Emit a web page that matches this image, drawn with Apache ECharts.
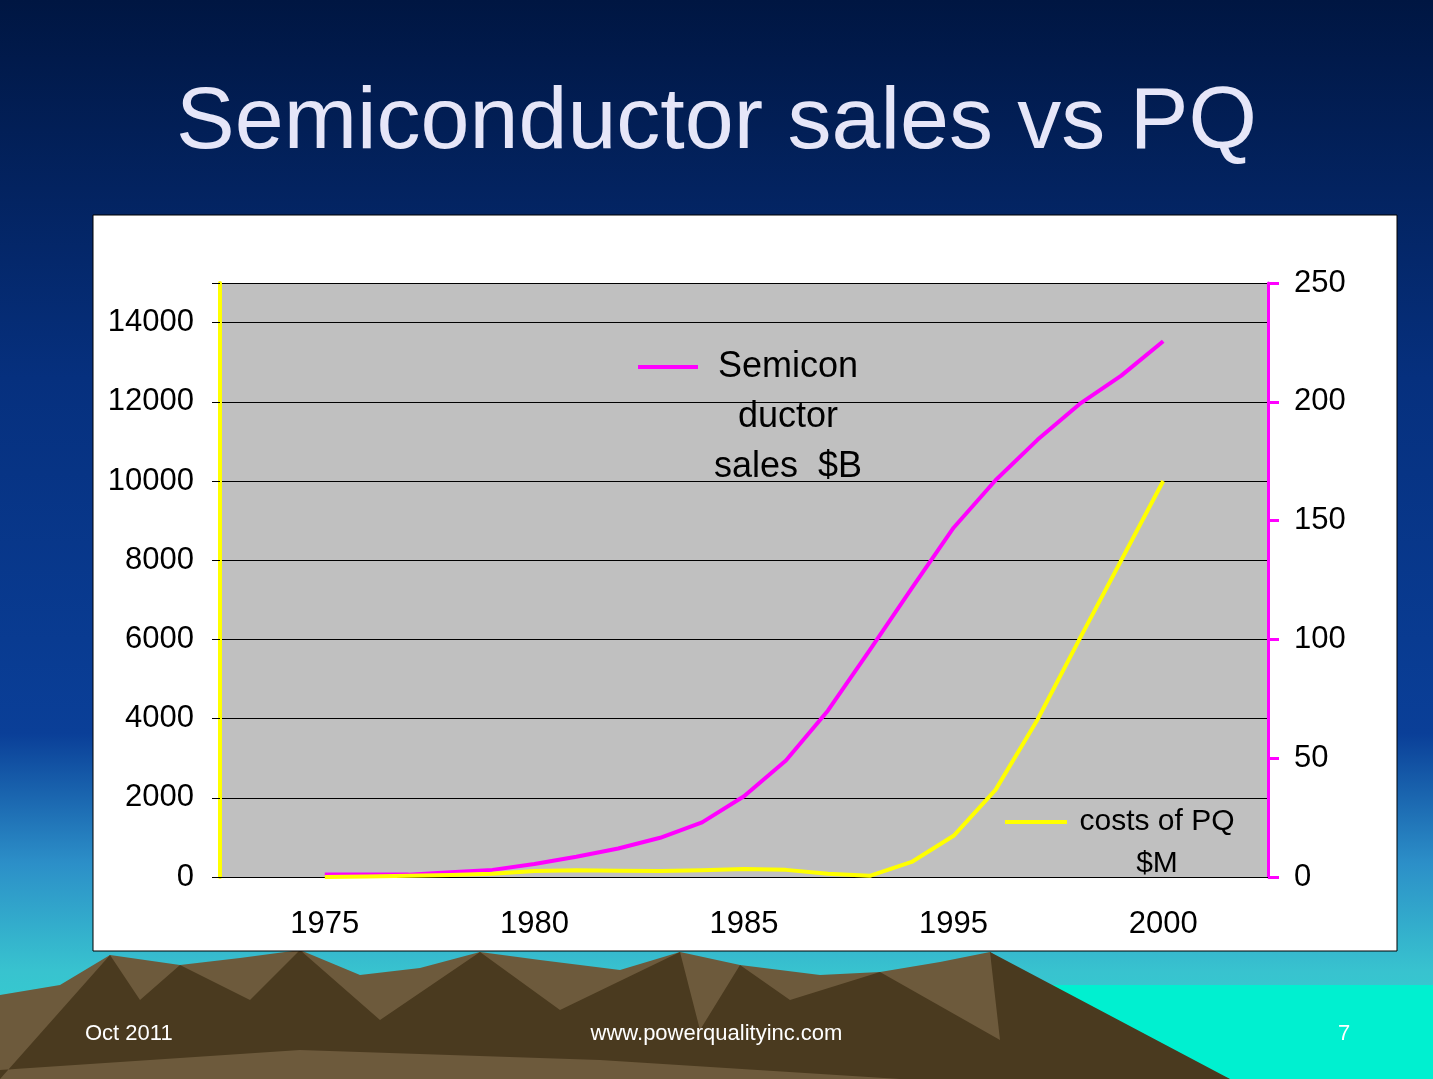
<!DOCTYPE html>
<html><head><meta charset="utf-8">
<script src="https://cdn.jsdelivr.net/npm/echarts@6/dist/echarts.min.js"></script>
<style>html,body{margin:0;padding:0;}#c{width:1433px;height:1079px;}</style>
</head><body><div id="c"></div>
<script>
'use strict';
var yearLabels = ['1975', '1980', '1985', '1995', '2000'];
// x positions in label units (0 = 1975 ... 4 = 2000), 5 points per interval
var xSteps = [0, 0.2, 0.4, 0.6, 0.8, 1, 1.2, 1.4, 1.6, 1.8, 2, 2.2, 2.4, 2.6, 2.8, 3, 3.2, 3.4, 3.6, 3.8, 4];
var semiSales = [1, 1, 1, 2, 3, 5.5, 8.5, 12, 16.5, 23, 34, 49, 70, 95.5, 121.5, 147, 167, 184, 199, 211, 225.5];
var pqCosts = [0, 10, 30, 50, 80, 150, 170, 160, 150, 170, 200, 180, 80, 30, 380, 1040, 2200, 3970, 6000, 8000, 10000];

function pairs(ys) {
  var out = [];
  for (var i = 0; i < xSteps.length; i++) out.push([xSteps[i], ys[i]]);
  return out;
}

var chart = echarts.init(document.getElementById('c'));
var font = 'Liberation Sans, Arial, sans-serif';
var option = {
  backgroundColor: {
    type: 'linear', x: 0, y: 0, x2: 0, y2: 1,
    colorStops: [
      {offset: 0, color: '#001642'}, {offset: 0.35, color: '#06307e'},
      {offset: 0.68, color: '#0a3f98'}, {offset: 0.8, color: '#2c8fc8'},
      {offset: 0.9, color: '#38c3cf'}, {offset: 1, color: '#30d8d0'}
    ]
  },
  graphic: [
    {type: 'polygon', z: -10, shape: {points: [[0, 995], [60, 985], [110, 955], [180, 965], [240, 958], [300, 950], [360, 975], [420, 968], [480, 952], [540, 960], [620, 970], [680, 952], [740, 965], [820, 975], [880, 972], [940, 962], [990, 952], [1040, 985], [1100, 1020], [1230, 1079], [0, 1079]]},
      style: {fill: '#6d5a3c'}},
    {type: 'polygon', z: -10, shape: {points: [[1040, 985], [1433, 985], [1433, 1079], [1230, 1079]]},
      style: {fill: '#00f0d0'}},
    {type: 'polygon', z: -10, shape: {points: [[110, 955], [140, 1000], [180, 965], [250, 1000], [300, 950], [380, 1020], [480, 952], [560, 1010], [680, 952], [700, 1030], [740, 965], [790, 1000], [880, 972], [1000, 1040], [990, 952], [1230, 1079], [900, 1079], [600, 1060], [300, 1050], [0, 1070], [0, 1079]]},
      style: {fill: '#4a3a1f'}},
    {type: 'rect', z: -9, shape: {x: 93, y: 215, width: 1304, height: 736}, style: {fill: '#ffffff', stroke: '#000', lineWidth: 1}},
    {type: 'text', z: 5, left: 'center', top: 80, style: {text: 'Semiconductor sales vs PQ', font: '88px ' + font, fill: '#e6e6f8', shadowColor: 'rgba(0,0,0,0.8)', shadowOffsetX: 4, shadowOffsetY: 4, shadowBlur: 2}},
    {type: 'text', z: 5, left: 85, top: 1023, style: {text: 'Oct 2011', font: '22px ' + font, fill: '#fff'}},
    {type: 'text', z: 5, left: 'center', top: 1023, style: {text: 'www.powerqualityinc.com', font: '22px ' + font, fill: '#fff'}},
    {type: 'text', z: 5, left: 1338, top: 1023, style: {text: '7', font: '22px ' + font, fill: '#fff'}}
  ],
  grid: {left: 220, right: 165, top: 283, bottom: 202, backgroundColor: '#c0c0c0', show: true, borderWidth: 0, z: 0},
  legend: [
    {data: ['Semiconductor sales $B'], left: 633, top: 237, itemWidth: 60, itemHeight: 50, itemGap: 4,
      icon: 'path://M0,23L60,23L60,27L0,27Z',
      formatter: function () { return '{a|}\n{a|}\n{a|Semicon}\n{a|ductor}\n{a|sales  $B}'; },
      textStyle: {fontFamily: font, fontSize: 36, color: '#000', lineHeight: 50,
        rich: {a: {fontFamily: font, fontSize: 36, color: '#000', lineHeight: 50, width: 170, align: 'center'}}}},
    {data: ['costs of PQ $M'], left: 1000, top: 754, itemWidth: 62, itemHeight: 40, itemGap: 4,
      icon: 'path://M0,18L62,18L62,22L0,22Z',
      formatter: function () { return '{a|}\n{a|costs of PQ}\n{a|$M}'; },
      textStyle: {fontFamily: font, fontSize: 30, color: '#000', lineHeight: 42,
        rich: {a: {fontFamily: font, fontSize: 30, color: '#000', lineHeight: 42, width: 170, align: 'center'}}}}
  ],
  xAxis: [
    {type: 'category', data: yearLabels, boundaryGap: true, position: 'bottom', z: 6,
      axisLine: {lineStyle: {color: '#000', width: 1}},
      axisTick: {length: 9, lineStyle: {color: '#000'}},
      axisLabel: {fontFamily: font, fontSize: 31, color: '#000', margin: 32}},
    {type: 'value', min: -0.5, max: 4.5, show: false}
  ],
  yAxis: [
    {type: 'value', min: 0, max: 15000, interval: 2000, position: 'left', z: 6,
      axisLine: {show: true, onZero: false, lineStyle: {color: '#ffff00', width: 4}},
      axisTick: {show: true, length: 8, lineStyle: {color: '#000'}},
      axisLabel: {fontFamily: font, fontSize: 31, color: '#000', margin: 26,
        formatter: function (v) { return v > 14000 ? '' : v; }},
      splitLine: {lineStyle: {color: '#000', width: 1}}},
    {type: 'value', min: 0, max: 250, interval: 50, position: 'right', z: 6,
      axisLine: {show: true, onZero: false, lineStyle: {color: '#ff00ff', width: 3}},
      axisTick: {show: true, inside: false, length: 11, lineStyle: {color: '#ff00ff', width: 3}},
      axisLabel: {fontFamily: font, fontSize: 31, color: '#000', margin: 26},
      splitLine: {show: false}}
  ],
  series: [
    {name: 'Semiconductor sales $B', type: 'line', xAxisIndex: 1, yAxisIndex: 1, data: pairs(semiSales),
      showSymbol: false, smooth: false, lineStyle: {color: '#ff00ff', width: 4, join: 'round'}, itemStyle: {color: '#ff00ff'}, z: 7},
    {name: 'costs of PQ $M', type: 'line', xAxisIndex: 1, yAxisIndex: 0, data: pairs(pqCosts),
      showSymbol: false, smooth: false, lineStyle: {color: '#ffff00', width: 4, join: 'round'}, itemStyle: {color: '#ffff00'}, z: 7}
  ]
};
chart.setOption(option);
</script>
</body></html>
